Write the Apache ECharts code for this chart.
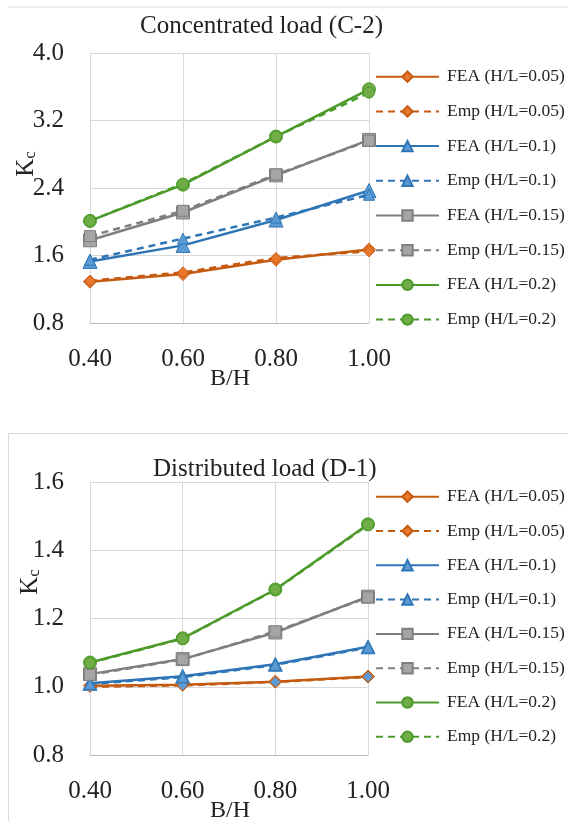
<!DOCTYPE html>
<html>
<head>
<meta charset="utf-8">
<script src="https://cdn.jsdelivr.net/npm/echarts@6/dist/echarts.min.js"></script>
<style>html,body{margin:0;padding:0;background:#fff}#c{width:568px;height:821px}</style>
</head>
<body>
<div id="c"></div>
<script>
var xValues = [0.40, 0.60, 0.80, 1.00];
var seriesNames = ['FEA (H/L=0.05)','Emp (H/L=0.05)','FEA (H/L=0.1)','Emp (H/L=0.1)','FEA (H/L=0.15)','Emp (H/L=0.15)','FEA (H/L=0.2)','Emp (H/L=0.2)'];
// Concentrated load (C-2)
var c2_FEA05 = [1.29, 1.38, 1.55, 1.67];
var c2_Emp05 = [1.30, 1.40, 1.57, 1.65];
var c2_FEA10 = [1.53, 1.72, 2.02, 2.37];
var c2_Emp10 = [1.55, 1.80, 2.05, 2.32];
var c2_FEA15 = [1.78, 2.11, 2.55, 2.97];
var c2_Emp15 = [1.83, 2.13, 2.56, 2.96];
var c2_FEA20 = [2.01, 2.44, 3.01, 3.57];
var c2_Emp20 = [2.01, 2.45, 3.01, 3.53];
// Distributed load (D-1)
var d1_FEA05 = [1.003, 1.006, 1.015, 1.030];
var d1_Emp05 = [1.000, 1.004, 1.014, 1.029];
var d1_FEA10 = [1.010, 1.031, 1.066, 1.117];
var d1_Emp10 = [1.008, 1.028, 1.064, 1.115];
var d1_FEA15 = [1.037, 1.081, 1.159, 1.264];
var d1_Emp15 = [1.035, 1.080, 1.162, 1.262];
var d1_FEA20 = [1.071, 1.142, 1.285, 1.476];
var d1_Emp20 = [1.070, 1.141, 1.284, 1.474];

var topSets = [c2_FEA05,c2_Emp05,c2_FEA10,c2_Emp10,c2_FEA15,c2_Emp15,c2_FEA20,c2_Emp20];
var botSets = [d1_FEA05,d1_Emp05,d1_FEA10,d1_Emp10,d1_FEA15,d1_Emp15,d1_FEA20,d1_Emp20];

var lineColors = ['#c55a11','#c55a11','#2e75b6','#2e75b6','#7f7f7f','#7f7f7f','#4c9a2a','#4c9a2a'];
var fillColorsTop = ['#e9782d','#e9782d','#5b9bd5','#5b9bd5','#a5a5a5','#a5a5a5','#70ad47','#70ad47'];
var fillColorsBot = ['#e9782d','#5b9bd5','#5b9bd5','#5b9bd5','#a5a5a5','#a5a5a5','#70ad47','#70ad47'];
var symbols = ['diamond','diamond','triangle','triangle','rect','rect','circle','circle'];

var serif = 'Liberation Serif';

function pairs(arr){ return arr.map(function(v,i){ return [xValues[i], v]; }); }

var series = [];
function addSeries(sets, idx, fills){
  sets.forEach(function(d,i){
    var emp = (i % 2 === 1);
    series.push({
      name: seriesNames[i],
      type: 'line',
      xAxisIndex: idx, yAxisIndex: idx,
      data: pairs(d),
      symbol: symbols[i],
      symbolSize: emp ? 11 : (symbols[i]==='triangle' ? 14 : 13),
      lineStyle: { color: lineColors[i], width: 2.5, type: emp ? [7,5] : 'solid' },
      itemStyle: { color: fills[i], borderColor: lineColors[i], borderWidth: 1 },
      z: emp ? 3 : 2,
      animation: false
    });
  });
}
addSeries(topSets, 0, fillColorsTop);
addSeries(botSets, 1, fillColorsBot);

function xAx(gi){
  return {
    type: 'value', gridIndex: gi, min: 0.4, max: 1.0, interval: 0.2,
    axisLine: { show: true, lineStyle: { color: '#bfbfbf' } },
    axisTick: { show: false },
    splitLine: { show: true, lineStyle: { color: '#d9d9d9' } },
    axisLabel: { fontFamily: serif, fontSize: 25, color: '#222', margin: 24,
      formatter: function(v){ return v.toFixed(2); } }
  };
}
function yAx(gi, mn, mx, iv){
  return {
    type: 'value', gridIndex: gi, min: mn, max: mx, interval: iv,
    axisLine: { show: true, lineStyle: { color: '#d9d9d9' } },
    axisTick: { show: false },
    splitLine: { show: true, lineStyle: { color: '#d9d9d9' } },
    axisLabel: { fontFamily: serif, fontSize: 25, color: '#222', margin: 26,
      formatter: function(v){ return v.toFixed(1); } }
  };
}
function legend(top, gap){
  return {
    orient: 'vertical', left: 375, top: top, padding: 0,
    itemWidth: 63, itemHeight: 13, itemGap: gap,
    data: seriesNames,
    textStyle: { fontFamily: serif, fontSize: 17.5, lineHeight: 18, color: '#222', padding: [0,0,0,3] },
    selectedMode: false
  };
}

var chart = echarts.init(document.getElementById('c'), null, { renderer: 'canvas' });
chart.setOption({
  backgroundColor: '#fff',
  animation: false,
  title: [
    { text: 'Concentrated load (C-2)', left: 140, top: 14, padding: 0,
      textStyle: { fontFamily: serif, fontSize: 25, fontWeight: 'normal', color: '#222' } },
    { text: 'Distributed load (D-1)', left: 153, top: 457, padding: 0,
      textStyle: { fontFamily: serif, fontSize: 25, fontWeight: 'normal', color: '#222' } }
  ],
  grid: [
    { left: 90, top: 53, width: 279, height: 270 },
    { left: 90, top: 482, width: 278, height: 273 }
  ],
  xAxis: [xAx(0), xAx(1)],
  yAxis: [yAx(0, 0.8, 4.0, 0.8), yAx(1, 0.8, 1.6, 0.2)],
  legend: [legend(67.7, 16.7), legend(487.7, 16.3)],
  series: series,
  graphic: [
    { type: 'line', shape: { x1: 8, y1: 7, x2: 568, y2: 7 }, style: { stroke: '#d9d9d9', lineWidth: 1 } },
    { type: 'rect', shape: { x: 8.5, y: 433.5, width: 570, height: 400 }, style: { fill: 'none', stroke: '#d9d9d9', lineWidth: 1 } },
    { type: 'text', x: 26, y: 164, rotation: Math.PI/2,
      style: { text: '{k|K}{s|c}', align: 'center', verticalAlign: 'middle',
        rich: { k: { fontFamily: serif, fontSize: 25, fill: '#222' }, s: { fontFamily: serif, fontSize: 17, fill: '#222', padding: [10,0,0,0] } } } },
    { type: 'text', x: 30, y: 582, rotation: Math.PI/2,
      style: { text: '{k|K}{s|c}', align: 'center', verticalAlign: 'middle',
        rich: { k: { fontFamily: serif, fontSize: 25, fill: '#222' }, s: { fontFamily: serif, fontSize: 17, fill: '#222', padding: [10,0,0,0] } } } },
    { type: 'text', x: 230, y: 379, style: { text: 'B/H', fontFamily: serif, fontSize: 24, fill: '#222', align: 'center', verticalAlign: 'middle' } },
    { type: 'text', x: 230, y: 811, style: { text: 'B/H', fontFamily: serif, fontSize: 24, fill: '#222', align: 'center', verticalAlign: 'middle' } }
  ]
});
</script>
</body>
</html>
